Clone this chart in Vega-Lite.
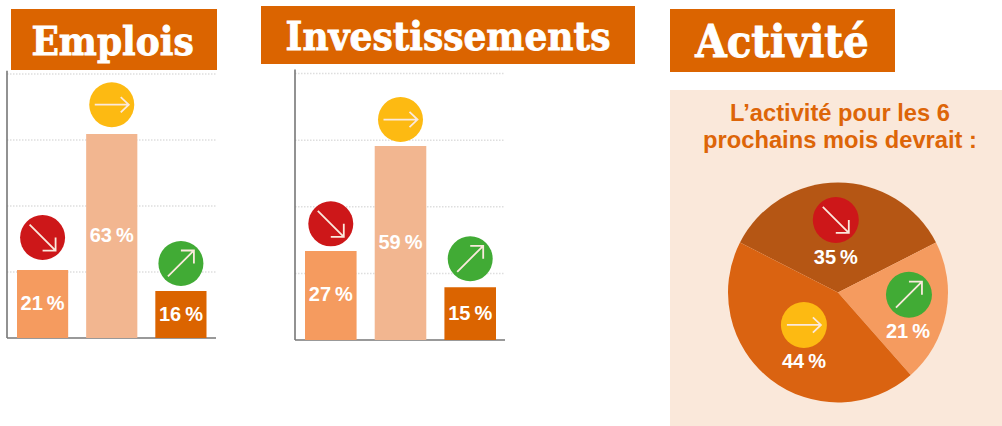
{
"$schema":"https://vega.github.io/schema/vega-lite/v6.json",
"width":1002,"height":426,"padding":0,"autosize":{"type":"none"},"background":"white",
"config":{"view":{"stroke":null}},
"datasets":{
"emplois":[
{"tendance":"baisse","etiquette":"21\u2009%","hauteur":21,"repere":31},
{"tendance":"stable","etiquette":"63\u2009%","hauteur":63,"repere":72},
{"tendance":"hausse","etiquette":"16\u2009%","hauteur":14.5,"repere":23}],
"investissements":[
{"tendance":"baisse","etiquette":"27\u2009%","hauteur":27,"repere":35.2},
{"tendance":"stable","etiquette":"59\u2009%","hauteur":58.8,"repere":66.8},
{"tendance":"hausse","etiquette":"15\u2009%","hauteur":16,"repere":24.6}],
"activite":[
{"tendance":"baisse","rang":1,"part":35,"etiquette":"35\u2009%","px":-0.02,"py":0.66,"lx":-0.02,"ly":0.314},
{"tendance":"hausse","rang":2,"part":21,"etiquette":"21\u2009%","px":0.645,"py":-0.02,"lx":0.636,"ly":-0.36},
{"tendance":"stable","rang":3,"part":44,"etiquette":"44\u2009%","px":-0.31,"py":-0.295,"lx":-0.31,"ly":-0.63}],
"grille":[{"g":20},{"g":40},{"g":60},{"g":80}]
},
"layer":[
{"data":{"values":[{"t":"Emplois"}]},"mark":{"type":"rect","fill":"#db6400"},
"encoding":{"x":{"datum":0,"type":"quantitative","axis":null,"scale":{"domain":[0,1],"range":[11,217]}},"x2":{"datum":1},"y":{"datum":0,"type":"quantitative","axis":null,"scale":{"domain":[0,1],"range":[70,9]}},"y2":{"datum":1}}},
{"data":{"values":[{"t":"Emplois"}]},"mark":{"type":"text","font":"DejaVu Serif Condensed","fontWeight":"bold","fontSize":40,"fill":"white","stroke":"white","strokeWidth":0.8,"baseline":"middle"},
"encoding":{"text":{"field":"t"},"x":{"datum":0.5,"type":"quantitative","axis":null,"scale":{"domain":[0,1],"range":[5,220]}},"y":{"datum":0.5,"type":"quantitative","axis":null,"scale":{"domain":[0,1],"range":[73,12]}}}},
{"data":{"name":"grille"},"mark":{"type":"rule","stroke":"#dedede","strokeWidth":1.5,"strokeDash":[1.5,1.5]},
"encoding":{"x":{"datum":0,"type":"quantitative","axis":null,"scale":{"domain":[0,1],"range":[7,216]}},"x2":{"datum":1},"y":{"field":"g","type":"quantitative","axis":null,"scale":{"domain":[0,80],"range":[338,74]}}}},
{"data":{"values":[{"a":"y"}]},"mark":{"type":"rule","stroke":"#777777","strokeWidth":1.6},
"encoding":{"x":{"datum":0,"type":"quantitative","axis":null,"scale":{"domain":[0,1],"range":[7,216]}},"y":{"datum":0,"type":"quantitative","axis":null,"scale":{"domain":[0,100],"range":[338,14]}},"y2":{"datum":82.5}}},
{"data":{"values":[{"a":"x"}]},"mark":{"type":"rule","stroke":"#777777","strokeWidth":1.6},
"encoding":{"x":{"datum":0,"type":"quantitative","axis":null,"scale":{"domain":[0,1],"range":[7,216]}},"x2":{"datum":1},"y":{"datum":0,"type":"quantitative","axis":null,"scale":{"domain":[0,100],"range":[338,14]}}}},
{"data":{"name":"emplois"},"mark":{"type":"bar"},
"encoding":{"x":{"field":"tendance","type":"nominal","axis":null,"sort":null,"scale":{"type":"band","domain":["baisse","stable","hausse"],"range":[17,206.5],"paddingInner":0.26,"paddingOuter":0}},"y":{"field":"hauteur","type":"quantitative","axis":null,"scale":{"domain":[0,100],"range":[338,14]}},"color":{"field":"tendance","type":"nominal","legend":null,"scale":{"domain":["baisse","stable","hausse"],"range":["#f59b5f","#f2b690","#db6400"]}}}},
{"data":{"name":"emplois"},"mark":{"type":"point","shape":"circle","filled":true,"size":2025,"opacity":1},
"encoding":{"x":{"field":"tendance","type":"nominal","axis":null,"sort":null,"scale":{"type":"band","domain":["baisse","stable","hausse"],"range":[17,206.5],"paddingInner":0.26,"paddingOuter":0}},"y":{"field":"repere","type":"quantitative","axis":null,"scale":{"domain":[0,100],"range":[338,14]}},"color":{"field":"tendance","type":"nominal","legend":null,"scale":{"domain":["baisse","stable","hausse"],"range":["#cd1719","#fdba12","#41ab35"]}}}},
{"data":{"name":"emplois"},"mark":{"type":"point","filled":false,"size":1600,"opacity":1,"stroke":"#fbe9dd","strokeWidth":1.8},
"encoding":{"x":{"field":"tendance","type":"nominal","axis":null,"sort":null,"scale":{"type":"band","domain":["baisse","stable","hausse"],"range":[17,206.5],"paddingInner":0.26,"paddingOuter":0}},"y":{"field":"repere","type":"quantitative","axis":null,"scale":{"domain":[0,100],"range":[338,14]}},"shape":{"field":"tendance","type":"nominal","legend":null,"scale":{"domain":["baisse","stable","hausse"],"range":["M-0.65,-0.65L0.65,0.65M0,0.65L0.65,0.65L0.65,0","M-0.85,0L0.85,0M0.45,-0.38L0.85,0L0.45,0.38","M-0.65,0.65L0.65,-0.65M0,-0.65L0.65,-0.65L0.65,0"]}}}},
{"data":{"name":"emplois"},"mark":{"type":"text","font":"Liberation Sans","fontWeight":"bold","fontSize":20,"fill":"white","baseline":"middle"},
"encoding":{"text":{"field":"etiquette"},"x":{"field":"tendance","type":"nominal","axis":null,"sort":null,"scale":{"type":"band","domain":["baisse","stable","hausse"],"range":[17,206.5],"paddingInner":0.26,"paddingOuter":0}},"y":{"field":"hauteur","type":"quantitative","axis":null,"scale":{"domain":[0,100],"range":[338,176]}}}},

{"data":{"values":[{"t":"Investissements"}]},"mark":{"type":"rect","fill":"#db6400"},
"encoding":{"x":{"datum":0,"type":"quantitative","axis":null,"scale":{"domain":[0,1],"range":[261,635]}},"x2":{"datum":1},"y":{"datum":0,"type":"quantitative","axis":null,"scale":{"domain":[0,1],"range":[64,6]}},"y2":{"datum":1}}},
{"data":{"values":[{"t":"Investissements"}]},"mark":{"type":"text","font":"DejaVu Serif Condensed","fontWeight":"bold","fontSize":40,"fill":"white","stroke":"white","strokeWidth":0.8,"baseline":"middle"},
"encoding":{"text":{"field":"t"},"x":{"datum":0.5,"type":"quantitative","axis":null,"scale":{"domain":[0,1],"range":[261,635]}},"y":{"datum":0.5,"type":"quantitative","axis":null,"scale":{"domain":[0,1],"range":[67,9]}}}},
{"data":{"name":"grille"},"mark":{"type":"rule","stroke":"#dedede","strokeWidth":1.5,"strokeDash":[1.5,1.5]},
"encoding":{"x":{"datum":0,"type":"quantitative","axis":null,"scale":{"domain":[0,1],"range":[295,505]}},"x2":{"datum":1},"y":{"field":"g","type":"quantitative","axis":null,"scale":{"domain":[0,80],"range":[340,73.5]}}}},
{"data":{"values":[{"a":"y"}]},"mark":{"type":"rule","stroke":"#777777","strokeWidth":1.6},
"encoding":{"x":{"datum":0,"type":"quantitative","axis":null,"scale":{"domain":[0,1],"range":[295,505]}},"y":{"datum":0,"type":"quantitative","axis":null,"scale":{"domain":[0,100],"range":[340,10]}},"y2":{"datum":82}}},
{"data":{"values":[{"a":"x"}]},"mark":{"type":"rule","stroke":"#777777","strokeWidth":1.6},
"encoding":{"x":{"datum":0,"type":"quantitative","axis":null,"scale":{"domain":[0,1],"range":[295,505]}},"x2":{"datum":1},"y":{"datum":0,"type":"quantitative","axis":null,"scale":{"domain":[0,100],"range":[340,10]}}}},
{"data":{"name":"investissements"},"mark":{"type":"bar"},
"encoding":{"x":{"field":"tendance","type":"nominal","axis":null,"sort":null,"scale":{"type":"band","domain":["baisse","stable","hausse"],"range":[305,496],"paddingInner":0.26,"paddingOuter":0}},"y":{"field":"hauteur","type":"quantitative","axis":null,"scale":{"domain":[0,100],"range":[340,10]}},"color":{"field":"tendance","type":"nominal","legend":null,"scale":{"domain":["baisse","stable","hausse"],"range":["#f59b5f","#f2b690","#db6400"]}}}},
{"data":{"name":"investissements"},"mark":{"type":"point","shape":"circle","filled":true,"size":2025,"opacity":1},
"encoding":{"x":{"field":"tendance","type":"nominal","axis":null,"sort":null,"scale":{"type":"band","domain":["baisse","stable","hausse"],"range":[305,496],"paddingInner":0.26,"paddingOuter":0}},"y":{"field":"repere","type":"quantitative","axis":null,"scale":{"domain":[0,100],"range":[340,10]}},"color":{"field":"tendance","type":"nominal","legend":null,"scale":{"domain":["baisse","stable","hausse"],"range":["#cd1719","#fdba12","#41ab35"]}}}},
{"data":{"name":"investissements"},"mark":{"type":"point","filled":false,"size":1600,"opacity":1,"stroke":"#fbe9dd","strokeWidth":1.8},
"encoding":{"x":{"field":"tendance","type":"nominal","axis":null,"sort":null,"scale":{"type":"band","domain":["baisse","stable","hausse"],"range":[305,496],"paddingInner":0.26,"paddingOuter":0}},"y":{"field":"repere","type":"quantitative","axis":null,"scale":{"domain":[0,100],"range":[340,10]}},"shape":{"field":"tendance","type":"nominal","legend":null,"scale":{"domain":["baisse","stable","hausse"],"range":["M-0.65,-0.65L0.65,0.65M0,0.65L0.65,0.65L0.65,0","M-0.85,0L0.85,0M0.45,-0.38L0.85,0L0.45,0.38","M-0.65,0.65L0.65,-0.65M0,-0.65L0.65,-0.65L0.65,0"]}}}},
{"data":{"name":"investissements"},"mark":{"type":"text","font":"Liberation Sans","fontWeight":"bold","fontSize":20,"fill":"white","baseline":"middle"},
"encoding":{"text":{"field":"etiquette"},"x":{"field":"tendance","type":"nominal","axis":null,"sort":null,"scale":{"type":"band","domain":["baisse","stable","hausse"],"range":[305,496],"paddingInner":0.26,"paddingOuter":0}},"y":{"field":"hauteur","type":"quantitative","axis":null,"scale":{"domain":[0,100],"range":[340,175]}}}},

{"data":{"values":[{"t":"Activité"}]},"mark":{"type":"rect","fill":"#db6400"},
"encoding":{"x":{"datum":0,"type":"quantitative","axis":null,"scale":{"domain":[0,1],"range":[670,895]}},"x2":{"datum":1},"y":{"datum":0,"type":"quantitative","axis":null,"scale":{"domain":[0,1],"range":[72,9]}},"y2":{"datum":1}}},
{"data":{"values":[{"t":"Activité"}]},"mark":{"type":"text","font":"DejaVu Serif Condensed","fontWeight":"bold","fontSize":45,"fill":"white","stroke":"white","strokeWidth":0.8,"baseline":"middle"},
"encoding":{"text":{"field":"t"},"x":{"datum":0.5,"type":"quantitative","axis":null,"scale":{"domain":[0,1],"range":[660,904]}},"y":{"datum":0.5,"type":"quantitative","axis":null,"scale":{"domain":[0,1],"range":[73,12]}}}},
{"data":{"values":[{"a":"fond"}]},"mark":{"type":"rect","fill":"#fae8da"},
"encoding":{"x":{"datum":0,"type":"quantitative","axis":null,"scale":{"domain":[0,1],"range":[670,1002]}},"x2":{"datum":1},"y":{"datum":0,"type":"quantitative","axis":null,"scale":{"domain":[0,1],"range":[426,90]}},"y2":{"datum":1}}},
{"data":{"values":[{"t":"L’activité pour les 6\nprochains mois devrait :"}]},"mark":{"type":"text","font":"Liberation Sans","fontWeight":"bold","fontSize":23.7,"fill":"#dd6508","lineBreak":"\n","lineHeight":27,"baseline":"middle"},
"encoding":{"text":{"field":"t"},"x":{"datum":0.5,"type":"quantitative","axis":null,"scale":{"domain":[0,1],"range":[674,1006]}},"y":{"datum":0.5,"type":"quantitative","axis":null,"scale":{"domain":[0,1],"range":[141,87]}}}},
{"data":{"name":"activite"},"mark":{"type":"arc","outerRadius":110},
"encoding":{"theta":{"field":"part","type":"quantitative","stack":true,"scale":{"domain":[0,100],"range":[-1.0996,5.1836]}},"order":{"field":"rang","type":"quantitative"},"x":{"datum":0,"type":"quantitative","axis":null,"scale":{"domain":[-1,1],"range":[728,948]}},"y":{"datum":0,"type":"quantitative","axis":null,"scale":{"domain":[-1,1],"range":[402.5,182.5]}},"color":{"field":"tendance","type":"nominal","legend":null,"scale":{"domain":["baisse","stable","hausse"],"range":["#b55614","#da6311","#f59b5f"]}}}},
{"data":{"name":"activite"},"mark":{"type":"point","shape":"circle","filled":true,"size":2116,"opacity":1},
"encoding":{"x":{"field":"px","type":"quantitative","axis":null,"scale":{"domain":[-1,1],"range":[728,948]}},"y":{"field":"py","type":"quantitative","axis":null,"scale":{"domain":[-1,1],"range":[402.5,182.5]}},"color":{"field":"tendance","type":"nominal","legend":null,"scale":{"domain":["baisse","stable","hausse"],"range":["#cd1719","#fdba12","#41ab35"]}}}},
{"data":{"name":"activite"},"mark":{"type":"point","filled":false,"size":1600,"opacity":1,"stroke":"#fbe9dd","strokeWidth":1.8},
"encoding":{"x":{"field":"px","type":"quantitative","axis":null,"scale":{"domain":[-1,1],"range":[728,948]}},"y":{"field":"py","type":"quantitative","axis":null,"scale":{"domain":[-1,1],"range":[402.5,182.5]}},"shape":{"field":"tendance","type":"nominal","legend":null,"scale":{"domain":["baisse","stable","hausse"],"range":["M-0.65,-0.65L0.65,0.65M0,0.65L0.65,0.65L0.65,0","M-0.85,0L0.85,0M0.45,-0.38L0.85,0L0.45,0.38","M-0.65,0.65L0.65,-0.65M0,-0.65L0.65,-0.65L0.65,0"]}}}},
{"data":{"name":"activite"},"mark":{"type":"text","font":"Liberation Sans","fontWeight":"bold","fontSize":20,"fill":"white","baseline":"middle"},
"encoding":{"text":{"field":"etiquette"},"x":{"field":"lx","type":"quantitative","axis":null,"scale":{"domain":[-1,1],"range":[728,948]}},"y":{"field":"ly","type":"quantitative","axis":null,"scale":{"domain":[-1,1],"range":[402.5,182.5]}}}}
],
"resolve":{"scale":{"x":"independent","y":"independent","color":"independent","shape":"independent","theta":"independent"}}
}
